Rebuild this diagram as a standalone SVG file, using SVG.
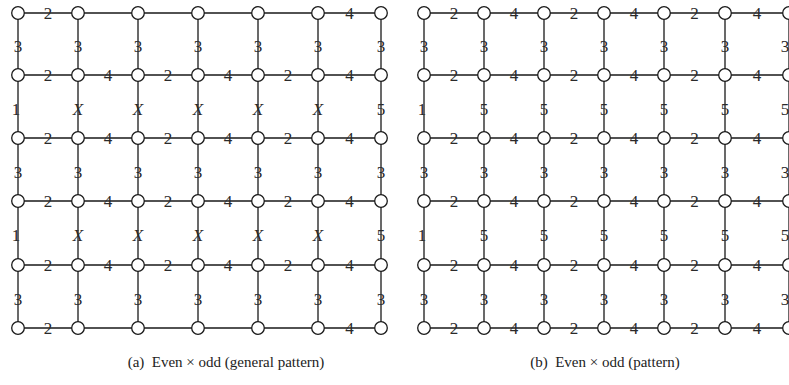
<svg xmlns="http://www.w3.org/2000/svg" width="789" height="385" viewBox="0 0 789 385">
<style>
.e{stroke:#1a1a1a;stroke-width:1.3;fill:none}
.n circle{fill:#fff;stroke:#1a1a1a;stroke-width:1.3}
.l{font-family:"Liberation Serif","Times New Roman",serif;font-size:17px;fill:#2a2a2a;text-anchor:middle}
.x{font-style:italic}
.c{font-family:"Liberation Serif","Times New Roman",serif;font-size:15px;fill:#222;text-anchor:middle}
</style>
<defs><circle id="o" r="6.3" fill="#fff" stroke="#1a1a1a" stroke-width="1.3"/></defs>
<rect width="789" height="385" fill="#fff"/>
<g id="connectors">
<path class="e" d="M18 13H381M18 75H381M18 138H381M18 201H381M18 265H381M18 328H381M18 13V328M78 13V328M138 13V328M198 13V328M258 13V328M318 13V328M381 13V328"/>
<path class="e" d="M424 13H789M424 75H789M424 138H789M424 201H789M424 265H789M424 328H789M424 13V328M484 13V328M544 13V328M604 13V328M664 13V328M725 13V328M789 13V328"/>
</g>
<g id="labels-a" class="l">
<text x="48" y="19">2</text><text x="349.5" y="19">4</text>
<text x="48" y="81">2</text><text x="108" y="81">4</text><text x="168" y="81">2</text><text x="228" y="81">4</text><text x="288" y="81">2</text><text x="349.5" y="81">4</text>
<text x="48" y="144">2</text><text x="108" y="144">4</text><text x="168" y="144">2</text><text x="228" y="144">4</text><text x="288" y="144">2</text><text x="349.5" y="144">4</text>
<text x="48" y="207">2</text><text x="108" y="207">4</text><text x="168" y="207">2</text><text x="228" y="207">4</text><text x="288" y="207">2</text><text x="349.5" y="207">4</text>
<text x="48" y="271">2</text><text x="108" y="271">4</text><text x="168" y="271">2</text><text x="228" y="271">4</text><text x="288" y="271">2</text><text x="349.5" y="271">4</text>
<text x="48" y="334">2</text><text x="349.5" y="334">4</text>
<text x="18" y="52">3</text><text x="78" y="52">3</text><text x="138" y="52">3</text><text x="198" y="52">3</text><text x="258" y="52">3</text><text x="318" y="52">3</text><text x="381" y="52">3</text>
<text x="16" y="115">1</text><text class="x" x="78" y="115">X</text><text class="x" x="138" y="115">X</text><text class="x" x="198" y="115">X</text><text class="x" x="258" y="115">X</text><text class="x" x="318" y="115">X</text><text x="381" y="115">5</text>
<text x="18" y="178">3</text><text x="78" y="178">3</text><text x="138" y="178">3</text><text x="198" y="178">3</text><text x="258" y="178">3</text><text x="318" y="178">3</text><text x="381" y="178">3</text>
<text x="16" y="241">1</text><text class="x" x="78" y="241">X</text><text class="x" x="138" y="241">X</text><text class="x" x="198" y="241">X</text><text class="x" x="258" y="241">X</text><text class="x" x="318" y="241">X</text><text x="381" y="241">5</text>
<text x="18" y="305">3</text><text x="78" y="305">3</text><text x="138" y="305">3</text><text x="198" y="305">3</text><text x="258" y="305">3</text><text x="318" y="305">3</text><text x="381" y="305">3</text>
</g>
<g id="labels-b" class="l">
<text x="454" y="19">2</text><text x="514" y="19">4</text><text x="574" y="19">2</text><text x="634" y="19">4</text><text x="694.5" y="19">2</text><text x="757" y="19">4</text>
<text x="454" y="81">2</text><text x="514" y="81">4</text><text x="574" y="81">2</text><text x="634" y="81">4</text><text x="694.5" y="81">2</text><text x="757" y="81">4</text>
<text x="454" y="144">2</text><text x="514" y="144">4</text><text x="574" y="144">2</text><text x="634" y="144">4</text><text x="694.5" y="144">2</text><text x="757" y="144">4</text>
<text x="454" y="207">2</text><text x="514" y="207">4</text><text x="574" y="207">2</text><text x="634" y="207">4</text><text x="694.5" y="207">2</text><text x="757" y="207">4</text>
<text x="454" y="271">2</text><text x="514" y="271">4</text><text x="574" y="271">2</text><text x="634" y="271">4</text><text x="694.5" y="271">2</text><text x="757" y="271">4</text>
<text x="454" y="334">2</text><text x="514" y="334">4</text><text x="574" y="334">2</text><text x="634" y="334">4</text><text x="694.5" y="334">2</text><text x="757" y="334">4</text>
<text x="424" y="52">3</text><text x="484" y="52">3</text><text x="544" y="52">3</text><text x="604" y="52">3</text><text x="664" y="52">3</text><text x="725" y="52">3</text><text x="785" y="52">3</text>
<text x="422" y="115">1</text><text x="484" y="115">5</text><text x="544" y="115">5</text><text x="604" y="115">5</text><text x="664" y="115">5</text><text x="725" y="115">5</text><text x="785" y="115">5</text>
<text x="424" y="178">3</text><text x="484" y="178">3</text><text x="544" y="178">3</text><text x="604" y="178">3</text><text x="664" y="178">3</text><text x="725" y="178">3</text><text x="785" y="178">3</text>
<text x="422" y="241">1</text><text x="484" y="241">5</text><text x="544" y="241">5</text><text x="604" y="241">5</text><text x="664" y="241">5</text><text x="725" y="241">5</text><text x="785" y="241">5</text>
<text x="424" y="305">3</text><text x="484" y="305">3</text><text x="544" y="305">3</text><text x="604" y="305">3</text><text x="664" y="305">3</text><text x="725" y="305">3</text><text x="785" y="305">3</text>
</g>
<g id="nodes-a">
<g id="a-0-0" class="n"><use href="#o" x="18" y="13"/></g><g id="a-0-1" class="n"><use href="#o" x="78" y="13"/></g><g id="a-0-2" class="n"><use href="#o" x="138" y="13"/></g><g id="a-0-3" class="n"><use href="#o" x="198" y="13"/></g><g id="a-0-4" class="n"><use href="#o" x="258" y="13"/></g><g id="a-0-5" class="n"><use href="#o" x="318" y="13"/></g><g id="a-0-6" class="n"><use href="#o" x="381" y="13"/></g>
<g id="a-1-0" class="n"><use href="#o" x="18" y="75"/></g><g id="a-1-1" class="n"><use href="#o" x="78" y="75"/></g><g id="a-1-2" class="n"><use href="#o" x="138" y="75"/></g><g id="a-1-3" class="n"><use href="#o" x="198" y="75"/></g><g id="a-1-4" class="n"><use href="#o" x="258" y="75"/></g><g id="a-1-5" class="n"><use href="#o" x="318" y="75"/></g><g id="a-1-6" class="n"><use href="#o" x="381" y="75"/></g>
<g id="a-2-0" class="n"><use href="#o" x="18" y="138"/></g><g id="a-2-1" class="n"><use href="#o" x="78" y="138"/></g><g id="a-2-2" class="n"><use href="#o" x="138" y="138"/></g><g id="a-2-3" class="n"><use href="#o" x="198" y="138"/></g><g id="a-2-4" class="n"><use href="#o" x="258" y="138"/></g><g id="a-2-5" class="n"><use href="#o" x="318" y="138"/></g><g id="a-2-6" class="n"><use href="#o" x="381" y="138"/></g>
<g id="a-3-0" class="n"><use href="#o" x="18" y="201"/></g><g id="a-3-1" class="n"><use href="#o" x="78" y="201"/></g><g id="a-3-2" class="n"><use href="#o" x="138" y="201"/></g><g id="a-3-3" class="n"><use href="#o" x="198" y="201"/></g><g id="a-3-4" class="n"><use href="#o" x="258" y="201"/></g><g id="a-3-5" class="n"><use href="#o" x="318" y="201"/></g><g id="a-3-6" class="n"><use href="#o" x="381" y="201"/></g>
<g id="a-4-0" class="n"><use href="#o" x="18" y="265"/></g><g id="a-4-1" class="n"><use href="#o" x="78" y="265"/></g><g id="a-4-2" class="n"><use href="#o" x="138" y="265"/></g><g id="a-4-3" class="n"><use href="#o" x="198" y="265"/></g><g id="a-4-4" class="n"><use href="#o" x="258" y="265"/></g><g id="a-4-5" class="n"><use href="#o" x="318" y="265"/></g><g id="a-4-6" class="n"><use href="#o" x="381" y="265"/></g>
<g id="a-5-0" class="n"><use href="#o" x="18" y="328"/></g><g id="a-5-1" class="n"><use href="#o" x="78" y="328"/></g><g id="a-5-2" class="n"><use href="#o" x="138" y="328"/></g><g id="a-5-3" class="n"><use href="#o" x="198" y="328"/></g><g id="a-5-4" class="n"><use href="#o" x="258" y="328"/></g><g id="a-5-5" class="n"><use href="#o" x="318" y="328"/></g><g id="a-5-6" class="n"><use href="#o" x="381" y="328"/></g>
</g>
<g id="nodes-b">
<g id="b-0-0" class="n"><use href="#o" x="424" y="13"/></g><g id="b-0-1" class="n"><use href="#o" x="484" y="13"/></g><g id="b-0-2" class="n"><use href="#o" x="544" y="13"/></g><g id="b-0-3" class="n"><use href="#o" x="604" y="13"/></g><g id="b-0-4" class="n"><use href="#o" x="664" y="13"/></g><g id="b-0-5" class="n"><use href="#o" x="725" y="13"/></g><g id="b-0-6" class="n"><use href="#o" x="789" y="13"/></g>
<g id="b-1-0" class="n"><use href="#o" x="424" y="75"/></g><g id="b-1-1" class="n"><use href="#o" x="484" y="75"/></g><g id="b-1-2" class="n"><use href="#o" x="544" y="75"/></g><g id="b-1-3" class="n"><use href="#o" x="604" y="75"/></g><g id="b-1-4" class="n"><use href="#o" x="664" y="75"/></g><g id="b-1-5" class="n"><use href="#o" x="725" y="75"/></g><g id="b-1-6" class="n"><use href="#o" x="789" y="75"/></g>
<g id="b-2-0" class="n"><use href="#o" x="424" y="138"/></g><g id="b-2-1" class="n"><use href="#o" x="484" y="138"/></g><g id="b-2-2" class="n"><use href="#o" x="544" y="138"/></g><g id="b-2-3" class="n"><use href="#o" x="604" y="138"/></g><g id="b-2-4" class="n"><use href="#o" x="664" y="138"/></g><g id="b-2-5" class="n"><use href="#o" x="725" y="138"/></g><g id="b-2-6" class="n"><use href="#o" x="789" y="138"/></g>
<g id="b-3-0" class="n"><use href="#o" x="424" y="201"/></g><g id="b-3-1" class="n"><use href="#o" x="484" y="201"/></g><g id="b-3-2" class="n"><use href="#o" x="544" y="201"/></g><g id="b-3-3" class="n"><use href="#o" x="604" y="201"/></g><g id="b-3-4" class="n"><use href="#o" x="664" y="201"/></g><g id="b-3-5" class="n"><use href="#o" x="725" y="201"/></g><g id="b-3-6" class="n"><use href="#o" x="789" y="201"/></g>
<g id="b-4-0" class="n"><use href="#o" x="424" y="265"/></g><g id="b-4-1" class="n"><use href="#o" x="484" y="265"/></g><g id="b-4-2" class="n"><use href="#o" x="544" y="265"/></g><g id="b-4-3" class="n"><use href="#o" x="604" y="265"/></g><g id="b-4-4" class="n"><use href="#o" x="664" y="265"/></g><g id="b-4-5" class="n"><use href="#o" x="725" y="265"/></g><g id="b-4-6" class="n"><use href="#o" x="789" y="265"/></g>
<g id="b-5-0" class="n"><use href="#o" x="424" y="328"/></g><g id="b-5-1" class="n"><use href="#o" x="484" y="328"/></g><g id="b-5-2" class="n"><use href="#o" x="544" y="328"/></g><g id="b-5-3" class="n"><use href="#o" x="604" y="328"/></g><g id="b-5-4" class="n"><use href="#o" x="664" y="328"/></g><g id="b-5-5" class="n"><use href="#o" x="725" y="328"/></g><g id="b-5-6" class="n"><use href="#o" x="789" y="328"/></g>
</g>
<g id="captions" class="c">
<text x="226" y="367" xml:space="preserve">(a)  Even × odd (general pattern)</text>
<text x="605" y="367" xml:space="preserve">(b)  Even × odd (pattern)</text>
</g>
</svg>
